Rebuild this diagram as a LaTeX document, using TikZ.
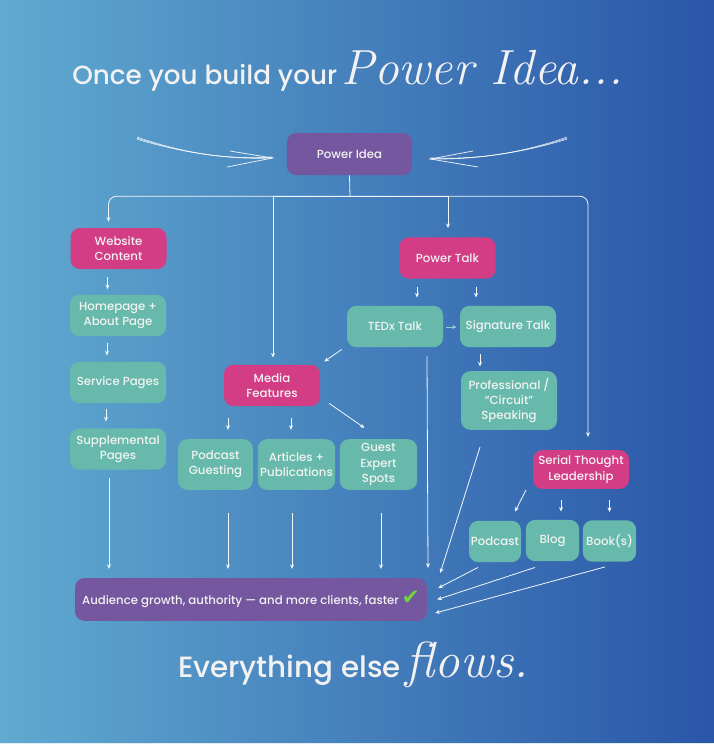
\documentclass[tikz,border=0pt]{standalone}
\usepackage{fontspec}
\setmainfont{Poppins}[UprightFont=* Medium]
\newfontfamily\handfont{Latin Modern Roman}
\newfontfamily\tickfont{DejaVu Sans}
\usetikzlibrary{arrows.meta, positioning, calc}
\definecolor{bgleft}{RGB}{96,170,208}
\definecolor{bgright}{RGB}{42,86,168}
\definecolor{ideapurple}{RGB}{117,87,160}
\definecolor{hubpink}{RGB}{211,61,133}
\definecolor{itemteal}{RGB}{103,186,171}
\definecolor{tickgreen}{RGB}{112,214,62}

\begin{document}
\begin{tikzpicture}[x=0.75pt, y=-0.75pt,
    every node/.style={font=\fontsize{8.8}{11.5}\selectfont, text=white!95!black, align=center},
    box/.style={rounded corners=7pt, minimum width=72pt, minimum height=31pt, inner sep=1pt},
    idea/.style={box, fill=ideapurple},
    hub/.style={box, fill=hubpink},
    item/.style={box, fill=itemteal},
    link/.style={draw=white!92!bgleft, line width=0.6pt, -{Stealth[length=3.5pt, width=3pt]}},
    swoosh/.style={draw=white, line width=0.4pt, opacity=0.85}]
    \useasboundingbox (0,0) rectangle (714,744);
    \shade[left color=bgleft, right color=bgright] (0,0) rectangle (714,744);
    \fill[white!80!bgleft] (0,742.5) rectangle (714,744);

    % titles
    \node[anchor=base west, inner sep=0pt] (title) at (72,84)
        {\fontsize{19.7}{19.7}\selectfont Once you build your\,%
         {\handfont\itshape\fontsize{37}{37}\selectfont Power Idea...}};
    \node[anchor=base west, inner sep=0pt] (footer) at (178,677)
        {\fontsize{22}{22}\selectfont Everything else\,%
         {\handfont\itshape\fontsize{38}{38}\selectfont flows.}};

    % POWER IDEA
    \node[idea, minimum width=94pt, minimum height=31.5pt] (idea) at (349.5,154) {Power Idea};
    \coordinate (lswoosh) at (137,137);
    \coordinate (rswoosh) at (567,137);
    \foreach \d in {0,1.2,2.2} {
        \draw[swoosh] ($(lswoosh)+(0,\d)$) .. controls (180,152) and (225,160) .. ($(idea.west)+(-14,4-\d/2)$);
        \draw[swoosh] ($(rswoosh)+(0,\d)$) .. controls (525,152) and (478,160) .. ($(idea.east)+(18,5-\d/2)$);
    }
    \draw[swoosh, line width=0.6pt] (230,151) -- ($(idea.west)+(-14,4)$) -- (227,167);
    \draw[swoosh, line width=0.6pt] (473,151) -- ($(idea.east)+(18,5)$) -- (478,167);

    % WEBSITE
    \node[hub, minimum height=30.75pt] (web) at (118.5,248.5) {Website\\Content};
    \node[item] (home) at (118,315.5) {Homepage +\\About Page};
    \node[item] (serv) at (118,382.5) {Service Pages};
    \node[item] (supp) at (118,449) {Supplemental\\Pages};

    % MEDIA
    \node[hub] (media) at (272,385.5) {Media\\Features};
    \node[item, minimum width=56pt, minimum height=38pt] (pguest) at (215.5,464.5) {Podcast\\Guesting};
    \node[item, minimum width=58pt, minimum height=38pt] (artic) at (296.5,464.5) {Articles +\\Publications};
    \node[item, minimum width=58pt, minimum height=38pt] (gexp) at (378.5,464.5) {Guest\\Expert\\Spots};

    % TALKS
    \node[hub] (ptalk) at (447.5,258) {Power Talk};
    \node[item] (tedx) at (395,326.5) {TEDx Talk};
    \node[item] (sig) at (508,326.5) {Signature Talk};
    \node[item, minimum height=44pt] (prof) at (509,400.5) {Professional /\\``Circuit''\\Speaking};

    % SERIAL THOUGHT LEADERSHIP
    \node[hub, minimum height=29pt] (serial) at (581,469.5) {Serial Thought\\Leadership};
    \node[item, minimum width=39pt] (pod) at (495,541.5) {Podcast};
    \node[item, minimum width=40pt] (blog) at (552.5,540.5) {Blog};
    \node[item, minimum width=40pt] (books) at (609.5,541) {Book(s)};

    % RESULT
    \node[idea, minimum width=264pt, minimum height=32pt] (bar) at (251,599.5)
        {Audience growth, authority --- and more clients, faster
         {\tickfont\fontsize{16}{16}\selectfont\textcolor{tickgreen}{✔}}};

    % trunk and branches
    \coordinate (fork) at ($(idea.south)+(0.5,21)$);
    \draw[draw=white!92!bgleft, line width=0.6pt] (idea.south) -- (fork);
    \draw[link, rounded corners=6pt] (fork) -| ($(web.north)+(-10,-6)$);
    \draw[link, rounded corners=6pt] (fork) -| ($(serial.north)+(7,-13)$);
    \draw[link] (fork) -| ($(media.north)+(1,-7)$);
    \draw[link] (fork) -| ($(ptalk.north)+(0.5,-9)$);

    % website chain
    \draw[link] ($(web.south)+(-11,8)$) -- ++(0,12);
    \draw[link] ($(home.south)+(-11,7)$) -- ++(0,12);
    \draw[link] ($(serv.south)+(-12,6)$) -- ++(0,12);
    \draw[link] ($(supp.south)+(-9,8)$) -- ($(supp.south |- bar.north)+(-9,-9)$);

    % media chain
    \draw[link] ($(pguest.north)+(12.5,-21)$) -- ++(0,12);
    \draw[link] ($(artic.north)+(-5.5,-21)$) -- ++(0,12);
    \draw[link] ($(media.south east)+(9,-3)$) -- ($(gexp.north)+(-14,-11)$);
    \draw[link] ($(tedx.south west)+(-5,2)$) -- ($(media.north east)+(4,-3)$);
    \draw[link] ($(pguest.south)+(12.5,23)$) -- ($(pguest.south |- bar.north)+(12.5,-9)$);
    \draw[link] ($(artic.south)+(-4.5,23)$) -- ($(artic.south |- bar.north)+(-4.5,-9)$);
    \draw[link] ($(gexp.south)+(2.5,23)$) -- ($(gexp.south |- bar.north)+(2.5,-9)$);

    % talk chain
    \draw[link] ($(tedx.north)+(22,-19)$) -- ++(0,11);
    \draw[link] ($(sig.north)+(-32,-19)$) -- ++(0,11);
    \draw[link, draw=itemteal!70!white] ($(tedx.east)+(3,0.5)$) -- ($(sig.west)+(-3,0.5)$);
    \draw[link] ($(sig.south)+(-28,7)$) -- ++(0,12);
    \draw[link] ($(tedx.south)+(32,9)$) -- ($(tedx.south |- bar.north)+(33,-10)$);
    \draw[link] ($(prof.south)+(-29,17)$) -- ($(bar.north east)+(13,-5)$);

    % serial chain
    \draw[link] ($(serial.south)+(-55,1)$) -- ($(pod.north)+(20,-9)$);
    \draw[link] ($(blog.north)+(8.5,-20)$) -- ++(0,12);
    \draw[link] ($(books.north)+(0,-20)$) -- ++(0,12);
    \draw[link] ($(pod.south)+(-17,5)$) -- ($(bar.east)+(11,-11.5)$);
    \draw[link] ($(blog.south)+(-17.5,6)$) -- ($(bar.east)+(10,0)$);
    \draw[link] ($(books.south)+(-4.5,5)$) -- ($(bar.east)+(8,13.5)$);
\end{tikzpicture}
\end{document}
